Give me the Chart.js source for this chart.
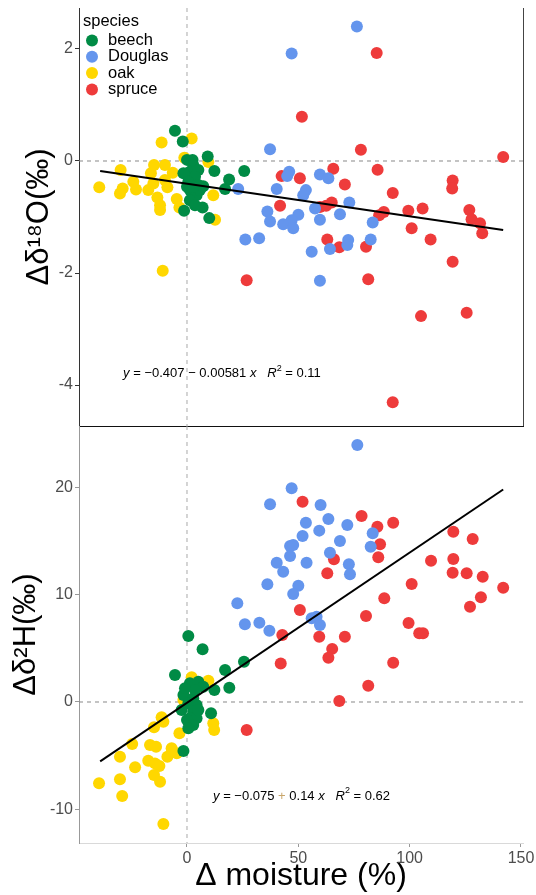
<!DOCTYPE html>
<html>
<head>
<meta charset="utf-8">
<script src="https://cdn.jsdelivr.net/npm/chart.js@4"></script>
<style>
  body { margin: 0; background: #fff; }
  #wrap { position: relative; width: 536px; height: 895px; }
  canvas { position: absolute; left: 0; }
</style>
</head>
<body>
<div id="wrap">
  <canvas id="o18" width="536" height="427" style="top:0"></canvas>
  <canvas id="h2" width="536" height="469" style="top:426px"></canvas>
</div>
<script>
// species + colours (ggplot style)
const species = ['beech', 'Douglas', 'oak', 'spruce'];
const speciesColors = ['#008B45', '#6495ED', '#FFD700', '#EE3B3B'];

// tick labels
const xTicks = [0, 50, 100, 150];
const o18Ticks = [-4, -2, 0, 2];
const h2Ticks = [-10, 0, 10, 20];

// top panel: delta 18O vs delta moisture
const beechO18X = [-5.4, -1.9, 9.3, 12.3, 25.7, 18.9, 17.1, 7.3, 7, -1.3, 2.5, 0, 2.8, 1.3, 5.1, -1.6, 3.6, 0.6, 5.1, 1.3, 4.3, 1.3, 3.6, 0, 5.8, 2.8, 10];
const beechO18Y = [0.54, 0.35, 0.08, -0.18, -0.18, -0.33, -0.50, -0.45, -0.83, -0.89, 0.02, 0.02, -0.07, -0.19, -0.16, -0.22, -0.28, -0.37, -0.43, -0.52, -0.61, -0.70, -0.79, -0.46, -0.52, -0.46, -1.02];
const douglasO18X = [76.3, 47, 37.3, 45.9, 45, 59.7, 63.5, 40.3, 53.4, 52.2, 72.9, 57.5, 36.1, 37.3, 50, 47, 43.2, 47.7, 59.7, 68.7, 83.4, 32.4, 26.2, 72.4, 72, 82.5, 64.2, 56, 59.7, 23];
const douglasO18Y = [2.40, 1.92, 0.21, -0.19, -0.27, -0.24, -0.31, -0.50, -0.52, -0.61, -0.74, -0.85, -0.90, -1.08, -0.96, -1.06, -1.13, -1.20, -1.05, -0.95, -1.10, -1.38, -1.40, -1.41, -1.50, -1.40, -1.57, -1.62, -2.14, -0.50];
const oakO18X = [-11.4, 2.1, -1.2, 9.6, -29.8, -14.8, -9.9, -16.2, -6.4, -24.1, -9.9, -15.1, -39.4, -28.9, -30.1, -22.9, -17.4, -8.8, -13.3, -4.6, -12.1, -3.4, -12.1, 11.8, 12.6, -10.9];
const oakO18Y = [0.33, 0.40, 0.06, -0.02, -0.16, -0.07, -0.07, -0.22, -0.21, -0.37, -0.34, -0.40, -0.47, -0.49, -0.58, -0.51, -0.52, -0.47, -0.65, -0.68, -0.79, -0.83, -0.875, -0.61, -1.05, -1.96];
const spruceO18X = [85.2, 51.6, 78.1, 142, 65.7, 85.6, 42.5, 50.7, 70.9, 119.3, 119.1, 92.4, 41.8, 59.7, 65, 88.4, 86.3, 99.4, 105.8, 126.8, 127.8, 131.6, 132.6, 100.9, 109.4, 63, 68.4, 80.4, 119.3, 81.4, 105.1, 125.6, 92.4, 26.8, 62.5];
const spruceO18Y = [1.93, 0.79, 0.20, 0.07, -0.14, -0.155, -0.27, -0.31, -0.42, -0.35, -0.49, -0.57, -0.80, -0.82, -0.74, -0.91, -0.97, -0.89, -0.85, -0.875, -1.04, -1.11, -1.29, -1.20, -1.40, -1.40, -1.54, -1.53, -1.80, -2.11, -2.77, -2.71, -4.31, -2.13, -0.80];

// bottom panel: delta 2H vs delta moisture
const beechH2X = [0.6, 7, 25.6, 17.1, -5.4, 19, 12.3, 10.8, -1.6, 1.3, 5.1, 7.3, 3.6, -1.6, 2.8, 0.6, 4.3, -2.4, 2.8, 1.3, 4.3, 0, 2.8, 0.6, 5.1, -0.9];
const beechH2Y = [6.15, 4.91, 3.76, 2.98, 2.52, 1.33, 1.12, -1.05, -4.57, 1.74, 1.89, 1.43, 1.12, 0.65, 0.34, -0.12, -0.28, -0.75, -0.90, -1.52, -1.52, -1.68, -2.14, -2.45, -0.75, 1.28];
const douglasH2X = [76.5, 47, 37.3, 60, 53.4, 63.5, 72, 59.4, 51.9, 83.4, 68.7, 46.3, 47.7, 82.5, 64.2, 46.3, 40.3, 53.7, 72.7, 43.2, 73.2, 36.1, 50, 47.7, 22.6, 56, 58.2, 59.7, 26, 32.5, 37];
const douglasH2Y = [23.95, 19.91, 18.42, 18.36, 16.71, 17.05, 16.50, 15.97, 15.47, 15.72, 15.00, 14.54, 14.63, 14.47, 13.91, 13.61, 12.98, 12.98, 12.83, 12.14, 11.90, 10.97, 10.84, 10.07, 9.20, 7.80, 7.95, 7.18, 7.24, 7.39, 6.65];
const oakH2X = [2.1, 9.6, -1.6, 11.8, -11.4, -10.6, -14.8, -3.4, -24.6, -16.6, -13.9, -6.9, -4.6, -8.8, -30.1, -17.4, -14.4, -12.4, -23.3, -14.8, -12.1, -30.1, -39.5, -29.1, -10.6, 12.2];
const oakH2Y = [2.30, 1.99, 0.19, -1.99, -1.43, -1.83, -2.36, -2.92, -3.91, -4.01, -4.16, -4.32, -4.78, -5.10, -5.10, -5.47, -5.72, -5.96, -6.09, -6.80, -7.43, -7.21, -7.58, -8.76, -11.37, -2.6];
const spruceH2X = [51.9, 78.4, 85.5, 92.6, 86.7, 85.9, 66, 63, 119.6, 128.3, 109.6, 119.6, 119.3, 125.6, 132.8, 142, 100.9, 132, 127.1, 88.6, 50.7, 80.4, 99.5, 104.3, 106, 42.8, 59.4, 70.9, 65.2, 63.5, 42.1, 92.6, 81.4, 68.4, 26.8];
const spruceH2Y = [18.67, 17.33, 16.34, 16.71, 14.70, 13.49, 13.30, 11.99, 15.87, 15.19, 13.17, 13.33, 12.05, 11.99, 11.68, 10.65, 11.00, 9.76, 8.88, 9.66, 8.57, 8.01, 7.36, 6.40, 6.40, 6.24, 6.09, 6.09, 4.95, 4.13, 3.58, 3.66, 1.52, 0.09, -2.61];

// fitted lines (intercept, slope) and x extent of the fit
const o18Fit = [-0.407, -0.00581];
const h2Fit = [-0.075, 0.14];
const fitX = [-39, 142];

const FONT = '"Liberation Sans", Arial, sans-serif';

function pts(xs, ys) {
  return xs.map((x, i) => ({ x: x, y: ys[i] }));
}

function fitLine(coef) {
  return {
    data: fitX.map(x => ({ x: x, y: coef[0] + coef[1] * x })),
    showLine: true,
    borderColor: '#000',
    borderWidth: 2,
    pointRadius: 0,
    order: 0
  };
}

function speciesSets(groups) {
  return groups.map((g, i) => ({
    label: species[i],
    data: pts(g[0], g[1]),
    backgroundColor: speciesColors[i],
    borderWidth: 0,
    pointRadius: 6,
    order: i + 1
  }));
}

// no extra room for half tick labels, the plot box is fixed
function noPad(s) {
  s.paddingTop = 0;
  s.paddingBottom = 0;
  s.paddingLeft = 0;
  s.paddingRight = 0;
}

function drawEquation(ctx, x0, y0, parts) {
  let x = x0;
  ctx.textBaseline = 'middle';
  ctx.textAlign = 'left';
  parts.forEach(p => {
    ctx.font = (p.i ? 'italic ' : '') + (p.sup ? '9px ' : '13px ') + FONT;
    ctx.fillStyle = p.c || '#000';
    ctx.fillText(p.t, x, p.sup ? y0 - 5 : y0);
    x += ctx.measureText(p.t).width;
  });
}

const overlay = {
  id: 'overlay',
  beforeDatasetsDraw(chart, args, opts) {
    const { ctx, chartArea: a, scales } = chart;
    const x0 = scales.x.getPixelForValue(0);
    const y0 = scales.y.getPixelForValue(0);
    ctx.save();
    ctx.lineWidth = 1;
    ctx.setLineDash([4, 4]);
    ctx.strokeStyle = '#888';
    ctx.beginPath();
    ctx.moveTo(a.left, y0);
    ctx.lineTo(a.right, y0);
    ctx.stroke();
    ctx.strokeStyle = '#aaa';
    ctx.beginPath();
    ctx.moveTo(x0, a.top);
    ctx.lineTo(x0, a.bottom);
    ctx.stroke();
    ctx.restore();
  },
  afterDraw(chart, args, opts) {
    const { ctx, chartArea: a, scales } = chart;
    ctx.save();
    if (opts.rightBorder) {
      ctx.strokeStyle = '#444';
      ctx.lineWidth = 1;
      ctx.beginPath();
      ctx.moveTo(a.right + 0.5, a.top);
      ctx.lineTo(a.right + 0.5, a.bottom);
      ctx.stroke();
    }
    if (opts.legend) {
      ctx.textBaseline = 'middle';
      ctx.textAlign = 'left';
      ctx.fillStyle = '#000';
      ctx.font = '16.5px ' + FONT;
      ctx.fillText('species', 83, 21);
      species.forEach((s, i) => {
        const y = 40.5 + i * 16.3;
        ctx.fillStyle = speciesColors[i];
        ctx.beginPath();
        ctx.arc(92, y, 6, 0, Math.PI * 2);
        ctx.fill();
        ctx.fillStyle = '#000';
        ctx.fillText(s, 108, y);
      });
    }
    if (opts.equation) {
      const e = opts.equation;
      drawEquation(ctx, scales.x.getPixelForValue(e.x), scales.y.getPixelForValue(e.y), e.parts);
    }
    ctx.restore();
  }
};

function baseOptions(cfg) {
  return {
    responsive: false,
    animation: false,
    events: [],
    layout: { autoPadding: false, padding: { top: cfg.padTop, right: 13, left: 0, bottom: 0 } },
    plugins: {
      legend: { display: false },
      tooltip: { enabled: false },
      overlay: cfg.overlay
    },
    scales: {
      x: {
        type: 'linear',
        min: -48.5,
        max: 150.9,
        afterBuildTicks: s => { s.ticks = xTicks.map(v => ({ value: v })); },
        afterFit: s => { s.height = cfg.xHeight; noPad(s); },
        ticks: { display: cfg.xLabels, color: '#4d4d4d', font: { size: 16, family: FONT }, padding: 2 },
        grid: { drawOnChartArea: false, drawTicks: cfg.xLabels, tickLength: 4, tickColor: '#999' },
        border: { color: cfg.xBorder, width: 1 },
        title: {
          display: cfg.xLabels,
          text: 'Δ moisture (%)',
          color: '#000',
          font: { size: 32, family: FONT },
          padding: { top: 0, bottom: 0 }
        }
      },
      y: {
        min: cfg.yMin,
        max: cfg.yMax,
        afterBuildTicks: s => { s.ticks = cfg.yTicks.map(v => ({ value: v })); },
        afterFit: s => { s.width = 79; noPad(s); },
        ticks: { color: '#4d4d4d', font: { size: 16, family: FONT }, padding: 2 },
        grid: { drawOnChartArea: false, tickLength: 4, tickColor: cfg.yBorder },
        border: { color: cfg.yBorder, width: 1 },
        title: {
          display: true,
          text: cfg.yTitle,
          color: '#000',
          font: { size: 31, family: FONT },
          padding: { top: cfg.yTitlePad, bottom: 0 }
        }
      }
    }
  };
}

new Chart(document.getElementById('o18'), {
  type: 'scatter',
  data: {
    datasets: [fitLine(o18Fit)].concat(speciesSets([
      [beechO18X, beechO18Y],
      [douglasO18X, douglasO18Y],
      [oakO18X, oakO18Y],
      [spruceO18X, spruceO18Y]
    ]))
  },
  options: baseOptions({
    padTop: 8, xHeight: 1, xLabels: false, xBorder: '#111', yBorder: '#333',
    yMin: -4.732, yMax: 2.732, yTicks: o18Ticks, yTitle: 'Δδ¹⁸O(‰)', yTitlePad: 21,
    overlay: {
      rightBorder: true,
      legend: true,
      equation: {
        x: -28.7, y: -3.8,
        parts: [
          { t: 'y', i: true }, { t: ' = −0.407 − 0.00581 ' }, { t: 'x', i: true },
          { t: '   ' }, { t: 'R', i: true }, { t: '2', sup: true }, { t: ' = 0.11' }
        ]
      }
    }
  }),
  plugins: [overlay]
});

new Chart(document.getElementById('h2'), {
  type: 'scatter',
  data: {
    datasets: [fitLine(h2Fit)].concat(speciesSets([
      [beechH2X, beechH2Y],
      [douglasH2X, douglasH2Y],
      [oakH2X, oakH2Y],
      [spruceH2X, spruceH2Y]
    ]))
  },
  options: baseOptions({
    padTop: 0, xHeight: 52, xLabels: true, xBorder: '#d9d9d9', yBorder: '#999',
    yMin: -13.14, yMax: 25.72, yTicks: h2Ticks, yTitle: 'Δδ²H(‰)', yTitlePad: 8,
    overlay: {
      rightBorder: false,
      legend: false,
      equation: {
        x: 11.7, y: -8.76,
        parts: [
          { t: 'y', i: true }, { t: ' = −0.075 ' }, { t: '+', c: '#c9a66b' }, { t: ' 0.14 ' }, { t: 'x', i: true },
          { t: '   ' }, { t: 'R', i: true }, { t: '2', sup: true }, { t: ' = 0.62' }
        ]
      }
    }
  }),
  plugins: [overlay]
});
</script>
</body>
</html>
